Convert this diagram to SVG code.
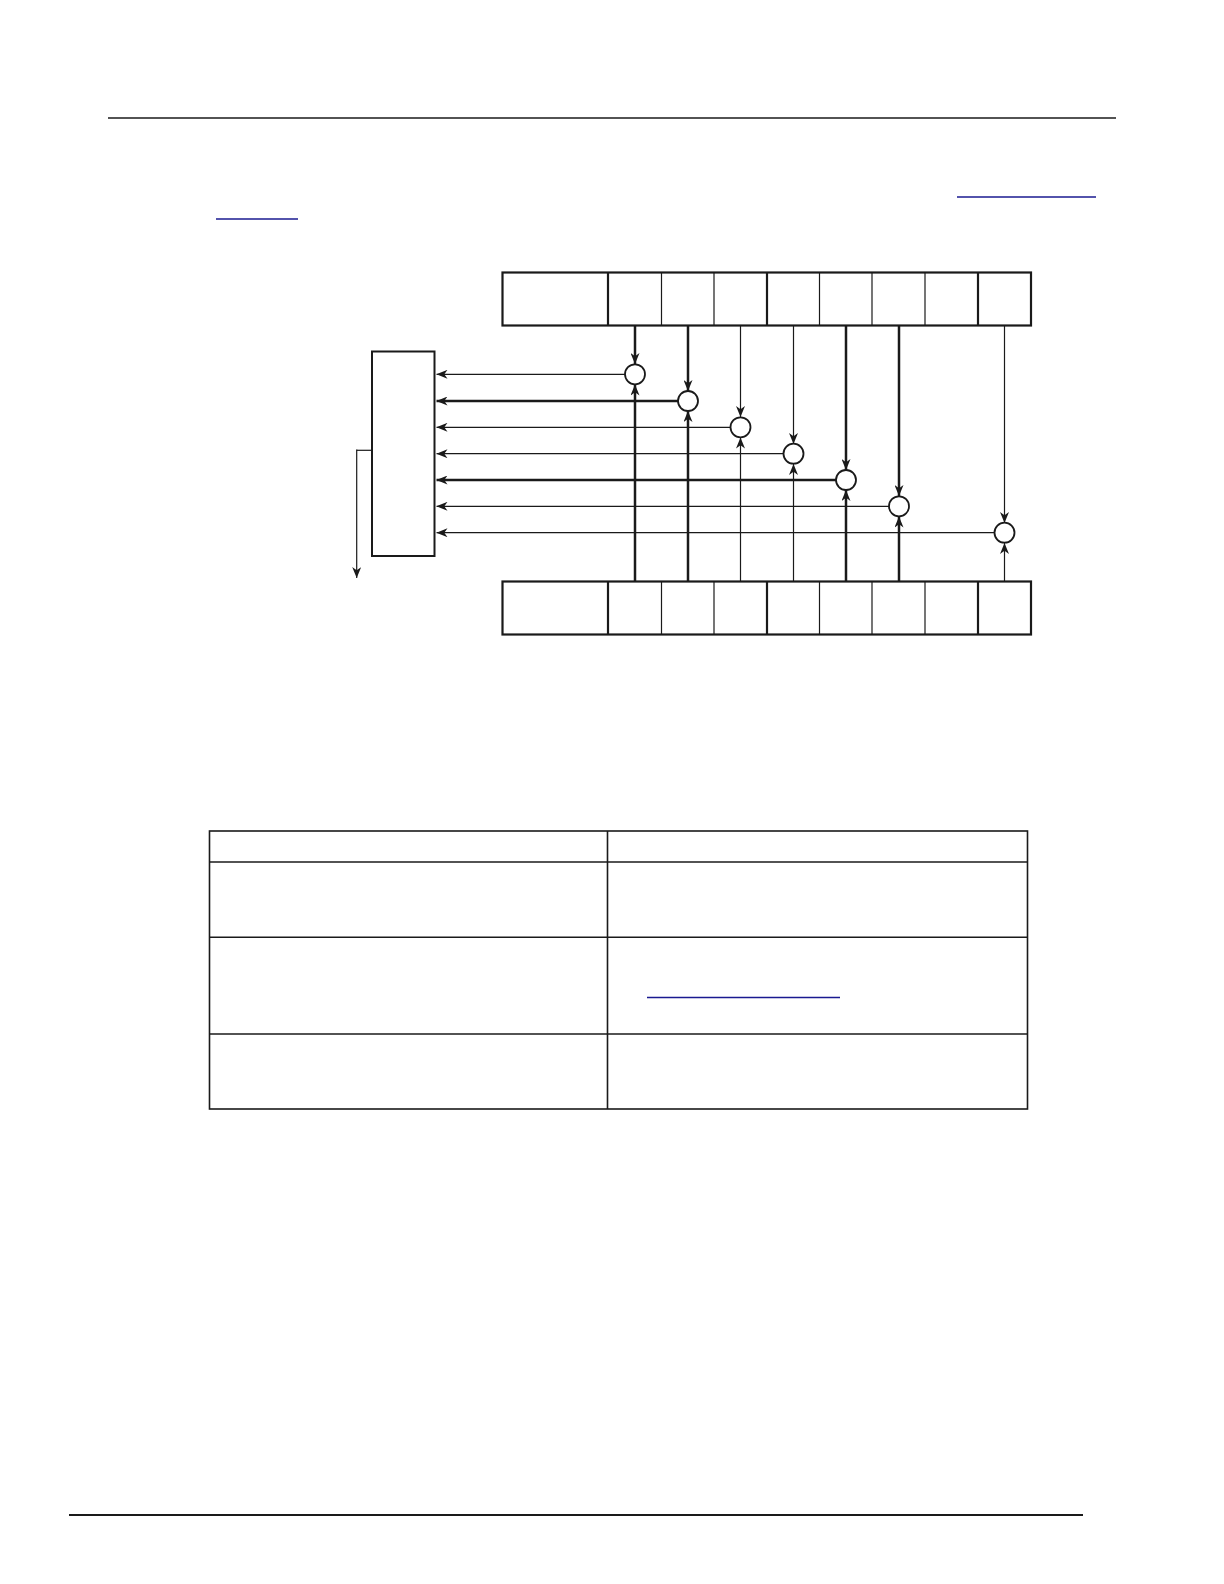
<svg xmlns="http://www.w3.org/2000/svg" width="1224" height="1584" viewBox="0 0 1224 1584">
<style>
.thin{stroke:#1a1a1a;stroke-width:1.2;fill:none}
.thick{stroke:#1a1a1a;stroke-width:2.5;fill:none}
.cell{stroke:#1a1a1a;stroke-width:1.2;fill:none}
.cellb{stroke:#1a1a1a;stroke-width:2.2;fill:none}
.box{stroke:#1a1a1a;stroke-width:2;fill:#fff}
.node{stroke:#1a1a1a;stroke-width:1.8;fill:#fff}
.rule{stroke:#1a1a1a;stroke-width:1.5}
.link{stroke:#1a1a90;stroke-width:1.3}
.tbl{stroke:#1a1a1a;stroke-width:1.6;fill:none}
</style>
<defs>
<marker id="ah" viewBox="0 0 11 9" markerWidth="11" markerHeight="9" refX="11" refY="4.5" orient="auto" markerUnits="userSpaceOnUse">
<path d="M0,0 L11,4.5 L0,9 L3.2,4.5 z" fill="#1a1a1a"/>
</marker>
</defs>
<rect width="1224" height="1584" fill="#fff"/>
<line class="rule" x1="108" y1="118" x2="1116" y2="118"/>
<line class="link" x1="957" y1="197" x2="1096" y2="197"/>
<line class="link" x1="216" y1="219" x2="298" y2="219"/>

<g id="connectors">
<line class="thick" x1="635" y1="326" x2="635" y2="364" marker-end="url(#ah)"/>
<line class="thick" x1="688" y1="326" x2="688" y2="391" marker-end="url(#ah)"/>
<line class="thin" x1="740.5" y1="326" x2="740.5" y2="417" marker-end="url(#ah)"/>
<line class="thin" x1="793.5" y1="326" x2="793.5" y2="444" marker-end="url(#ah)"/>
<line class="thick" x1="846" y1="326" x2="846" y2="470" marker-end="url(#ah)"/>
<line class="thick" x1="899" y1="326" x2="899" y2="496" marker-end="url(#ah)"/>
<line class="thin" x1="1004.5" y1="326" x2="1004.5" y2="523" marker-end="url(#ah)"/>

<line class="thick" x1="635" y1="581" x2="635" y2="384.5" marker-end="url(#ah)"/>
<line class="thick" x1="688" y1="581" x2="688" y2="411" marker-end="url(#ah)"/>
<line class="thin" x1="740.5" y1="581" x2="740.5" y2="437.5" marker-end="url(#ah)"/>
<line class="thin" x1="793.5" y1="581" x2="793.5" y2="464" marker-end="url(#ah)"/>
<line class="thick" x1="846" y1="581" x2="846" y2="490" marker-end="url(#ah)"/>
<line class="thick" x1="899" y1="581" x2="899" y2="516.5" marker-end="url(#ah)"/>
<line class="thin" x1="1004.5" y1="581" x2="1004.5" y2="543" marker-end="url(#ah)"/>

<line class="thin" x1="625" y1="374.3" x2="436.5" y2="374.3" marker-end="url(#ah)"/>
<line class="thick" x1="678" y1="401" x2="436.5" y2="401" marker-end="url(#ah)"/>
<line class="thin" x1="730.5" y1="427.3" x2="436.5" y2="427.3" marker-end="url(#ah)"/>
<line class="thin" x1="783.5" y1="453.7" x2="436.5" y2="453.7" marker-end="url(#ah)"/>
<line class="thick" x1="836" y1="480" x2="436.5" y2="480" marker-end="url(#ah)"/>
<line class="thin" x1="889" y1="506.3" x2="436.5" y2="506.3" marker-end="url(#ah)"/>
<line class="thin" x1="994.5" y1="532.7" x2="436.5" y2="532.7" marker-end="url(#ah)"/>

<path class="thin" d="M372,450.3 H356.7" stroke-width="1.4"/>
<path class="thin" d="M356.7,449.6 V578" stroke-width="2" marker-end="url(#ah)"/>
</g>

<g id="top-register">
<rect class="cellb" x="502.5" y="272.5" width="528.5" height="53" stroke-width="2"/>
<line class="cellb" x1="608" y1="272.5" x2="608" y2="325.5"/>
<line class="cell" x1="661.5" y1="272.5" x2="661.5" y2="325.5"/>
<line class="cell" x1="714" y1="272.5" x2="714" y2="325.5"/>
<line class="cellb" x1="767" y1="272.5" x2="767" y2="325.5"/>
<line class="cell" x1="819.5" y1="272.5" x2="819.5" y2="325.5"/>
<line class="cell" x1="872" y1="272.5" x2="872" y2="325.5"/>
<line class="cell" x1="925" y1="272.5" x2="925" y2="325.5"/>
<line class="cellb" x1="978" y1="272.5" x2="978" y2="325.5"/>
</g>

<g id="bottom-register">
<rect class="cellb" x="502.5" y="581.5" width="528.5" height="53" stroke-width="2"/>
<line class="cellb" x1="608" y1="581.5" x2="608" y2="634.5"/>
<line class="cell" x1="661.5" y1="581.5" x2="661.5" y2="634.5"/>
<line class="cell" x1="714" y1="581.5" x2="714" y2="634.5"/>
<line class="cellb" x1="767" y1="581.5" x2="767" y2="634.5"/>
<line class="cell" x1="819.5" y1="581.5" x2="819.5" y2="634.5"/>
<line class="cell" x1="872" y1="581.5" x2="872" y2="634.5"/>
<line class="cell" x1="925" y1="581.5" x2="925" y2="634.5"/>
<line class="cellb" x1="978" y1="581.5" x2="978" y2="634.5"/>
</g>

<g id="summary-box"><rect class="box" x="372" y="351.5" width="62.5" height="204.5"/></g>

<g id="n1"><circle class="node" cx="635" cy="374.3" r="10"/></g>
<g id="n2"><circle class="node" cx="688" cy="401" r="10"/></g>
<g id="n3"><circle class="node" cx="740.5" cy="427.3" r="10"/></g>
<g id="n4"><circle class="node" cx="793.5" cy="453.7" r="10"/></g>
<g id="n5"><circle class="node" cx="846" cy="480" r="10"/></g>
<g id="n6"><circle class="node" cx="899" cy="506.3" r="10"/></g>
<g id="n7"><circle class="node" cx="1004.5" cy="532.7" r="10"/></g>

<g id="table">
<rect class="tbl" x="209.5" y="831" width="818" height="278"/>
<line class="tbl" x1="607.5" y1="831" x2="607.5" y2="1109"/>
<line class="tbl" x1="209.5" y1="862" x2="1027.5" y2="862"/>
<line class="tbl" x1="209.5" y1="937.3" x2="1027.5" y2="937.3"/>
<line class="tbl" x1="209.5" y1="1034" x2="1027.5" y2="1034"/>
<line class="link" x1="647" y1="997.5" x2="840" y2="997.5"/>
</g>

<line x1="69" y1="1515" x2="1083" y2="1515" stroke="#1a1a1a" stroke-width="2"/>
</svg>
